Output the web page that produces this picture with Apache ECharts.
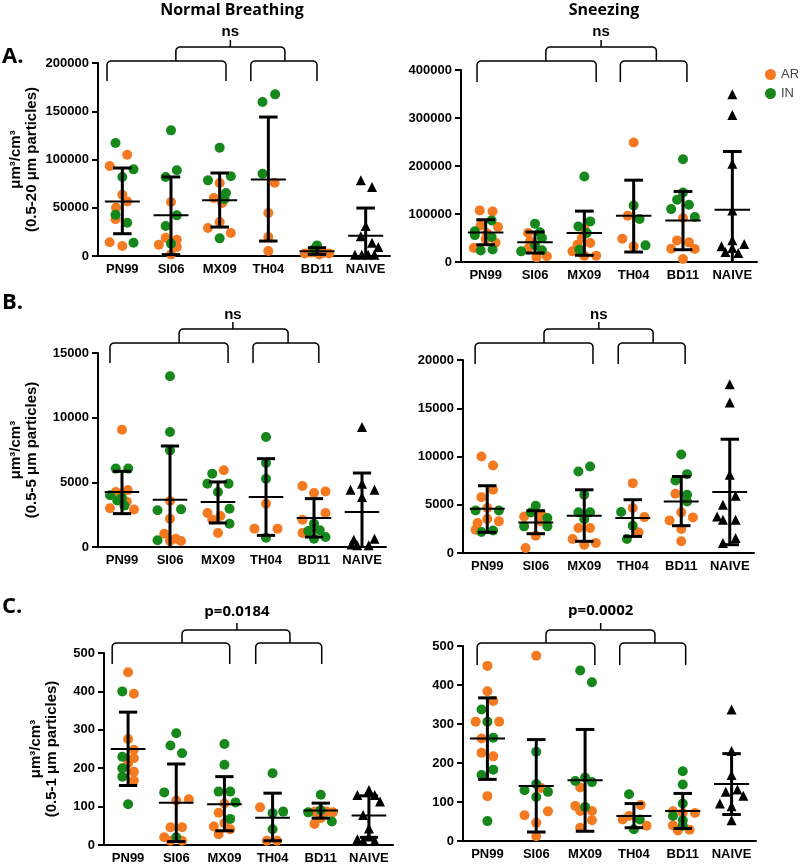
<!DOCTYPE html>
<html><head><meta charset="utf-8">
<script src="https://cdn.jsdelivr.net/npm/echarts@6/dist/echarts.min.js"></script>
<style>html,body{margin:0;padding:0;background:#fff}#c{width:800px;height:865px}</style>
</head><body><div id="c"></div>
<script>
const CATS = ['PN99','SI06','MX09','TH04','BD11','NAIVE'];
const TITLES = ['Normal Breathing','Sneezing'];
const PANEL_LETTERS = ['A.','B.','C.'];
const STATS = ['ns','ns','ns','ns','p=0.0184','p=0.0002'];
const Y_NAMES = ['μm³/cm³\n(0.5-20 μm particles)','μm³/cm³\n(0.5-5 μm particles)','μm³/cm³\n(0.5-1 μm particles)'];
const Y_MAX = [200000,400000,15000,20000,500,500];
const Y_STEP = [50000,100000,5000,5000,100,100];

// points: [categoryIndex, jitter, value]
const A_NB_AR = [[0,0.10,105000],[0,-0.26,93300],[0,0,63600],[0,0.1,56600],[0,-0.13,50100],[0,-0.14,38000],[0,-0.26,14200],[0,0,10400],
 [1,0,56000],[1,-0.11,19000],[1,0.12,16900],[1,-0.25,11700],[1,0.12,9300],[1,0,1700],
 [2,0,75600],[2,-0.12,60100],[2,0.05,55000],[2,0,35200],[2,-0.24,29000],[2,0.23,23800],
 [3,0.13,76000],[3,0,44600],[3,0,19700],[3,0,5200],
 [4,-0.25,2500],[4,-0.12,3500],[4,0,4000],[4,0.12,3000],[4,0.25,2500],[4,0.05,1500],[4,-0.05,6000]];
const A_NB_IN = [[0,-0.14,117100],[0,0.23,89800],[0,0,81900],[0,-0.14,42800],[0,0.1,34500],[0,0.23,13800],
 [1,0,130200],[1,0.12,88800],[1,-0.11,81900],[1,0.12,42100],[1,-0.11,31100],[1,0,12800],
 [2,0,112300],[2,-0.24,78400],[2,0.23,82600],[2,0.13,65300],[2,0.1,59000],[2,0,18300],
 [3,0.14,167500],[3,-0.12,159600],[3,-0.12,85300],
 [4,0,11000],[4,-0.05,7500]];
const A_NB_NAIVE = [[5,-0.1,78400],[5,0.13,71500],[5,0,31100],[5,-0.1,20400],[5,0.13,13800],[5,0.26,9300],[5,-0.22,1200],[5,-0.08,1200],[5,0.05,1200],[5,0.18,1200]];
const A_NB_MEAN = [56600,42100,57700,79400,5000,21100];
const A_NB_LOW  = [23100,1400,30000,15500,1700,-7500];
const A_NB_HIGH = [91200,81900,86000,144000,8600,49700];

const A_SN_AR = [[0,-0.12,107500],[0,0.14,105400],[0,-0.1,76300],[0,0.25,72800],[0,0.03,60000],[0,0,48000],[0,0.2,40000],[0,-0.24,29000],
 [1,-0.14,60300],[1,-0.1,43000],[1,-0.14,27700],[1,0.03,9700],[1,0.24,11800],
 [2,0,69300],[2,-0.14,36000],[2,0.12,39500],[2,-0.24,22200],[2,0,13200],[2,0.24,13200],[2,-0.05,50000],
 [3,0,248900],[3,-0.12,96400],[3,-0.23,48500],[3,0,32600],
 [4,0,91500],[4,-0.12,45000],[4,0.12,40900],[4,-0.24,27700],[4,0.24,27000],[4,0,6200]];
const A_SN_IN = [[0,0.12,86700],[0,-0.22,64000],[0,-0.22,56000],[0,0.12,52000],[0,0.14,26000],[0,-0.1,24000],
 [1,0,79700],[1,0.14,50000],[1,0.1,62000],[1,0.14,24300],[1,-0.28,22200],[1,0,35000],
 [2,0,178200],[2,-0.12,74200],[2,0.12,84600],[2,0.05,60300],[2,-0.1,25600],
 [3,0,117800],[3,0.12,89400],[3,0.24,34700],
 [4,0,214200],[4,0,144900],[4,-0.12,129600],[4,-0.24,110200],[4,0.12,119200],[4,0.24,93600]];
const A_SN_NAIVE = [[5,0,349400],[5,0,306400],[5,0,204500],[5,0,107500],[5,0,45100],[5,-0.22,32600],[5,-0.14,20800],[5,0,29100],[5,0.12,18700],[5,0.24,37400]];
const A_SN_MEAN = [61700,40900,60300,96400,86700,108800];
const A_SN_LOW  = [36000,18700,14000,20800,25600,-12600];
const A_SN_HIGH = [88000,62400,106000,170500,147000,230200];

const B_NB_AR = [[0,0,9070],[0,0.12,4400],[0,-0.13,4250],[0,0.1,3500],[0,-0.25,3000],[0,0.25,2900],[0,-0.05,4100],
 [1,0,3560],[1,0,2190],[1,-0.12,1030],[1,0.12,640],[1,0,460],[1,0.23,460],
 [2,0.12,5930],[2,-0.22,2630],[2,-0.12,2110],[2,0,1080],[2,0.05,2400],
 [3,0,3350],[3,-0.24,1420],[3,0.24,1420],
 [4,-0.24,4720],[4,0,4180],[4,0.24,4300],[4,0.24,2630],[4,-0.24,2110],[4,-0.24,1080]];
const B_NB_IN = [[0,-0.13,6060],[0,0.13,6060],[0,-0.25,4000],[0,0,3800],[0,0.05,3200],[0,-0.1,3600],
 [1,0,13200],[1,0,8890],[1,0,7470],[1,-0.26,2840],[1,0.23,2910],[1,-0.26,520],
 [2,-0.12,5670],[2,-0.22,4900],[2,0.22,4900],[2,0,4250],[2,0.24,2960],[2,0.24,1800],
 [3,0,8500],[3,0,6500],[3,0,5280],[3,0,720],
 [4,0.12,1290],[4,-0.12,1240],[4,0,640],[4,0.24,770],[4,0,1800]];
const B_NB_NAIVE = [[5,0,9280],[5,0,4900],[5,-0.24,4430],[5,0.26,4430],[5,0,3870],[5,0.26,640],[5,-0.17,570],[5,-0.1,130],[5,0.14,130],[5,-0.22,200]];
const B_NB_MEAN = [4250,3660,3480,3870,2240,2710];
const B_NB_LOW  = [2580,-490,1860,900,770,-300];
const B_NB_HIGH = [5850,7810,5030,6830,3740,5720];

const B_SN_AR = [[0,-0.12,10000],[0,0.12,9070],[0,0.12,6550],[0,-0.12,5790],[0,0,4660],[0,0,3520],[0,0.24,3280],[0,-0.2,3100],[0,-0.24,2410],
 [1,-0.24,3790],[1,0,1790],[1,-0.21,520],[1,0.12,4000],[1,0.1,3300],
 [2,-0.12,2590],[2,0.12,2590],[2,-0.24,1450],[2,0.24,1030],[2,0,860],
 [3,0,7240],[3,0,4660],[3,0.24,3720],[3,0.12,2140],
 [4,-0.12,6140],[4,0,4210],[4,-0.24,3380],[4,0.24,3690],[4,0,2480],[4,0,1210]];
const B_SN_IN = [[0,-0.24,4410],[0,0.24,4410],[0,-0.12,2170],[0,0.12,2340],
 [1,0,4900],[1,0.24,3620],[1,-0.24,2760],[1,0.24,2760],[1,-0.1,4200],
 [2,0.12,8970],[2,-0.12,8450],[2,0,6030],[2,-0.12,4210],[2,0.12,4210],[2,0,3500],
 [3,-0.24,4240],[3,0,2830],[3,-0.12,1450],
 [4,0,10200],[4,0.12,8170],[4,-0.12,7520],[4,0.12,6030],[4,0.12,5340]];
const B_SN_NAIVE = [[5,0,17480],[5,0,15590],[5,0,8100],[5,0.12,5930],[5,-0.14,5000],[5,-0.26,3790],[5,-0.14,3450],[5,0.12,3450],[5,0.12,1550],[5,-0.14,1030]];
const B_SN_MEAN = [4590,3170,3860,3620,5340,6310];
const B_SN_LOW  = [2140,2000,1210,1720,2830,860];
const B_SN_HIGH = [6970,4380,6550,5520,7930,11790];

const C_NB_AR = [[0,0,450],[0,0.12,394],[0,0,276],[0,0.12,248],[0,0.12,226],[0,0,213],[0,0.12,191],[0,0.12,168],
 [1,0.26,119],[1,-0.12,46],[1,0.12,46],[1,-0.25,20],[1,-0.12,11],[1,0.12,11],[1,0,116],
 [2,0,108],[2,-0.12,84],[2,0,57],[2,-0.22,48],[2,0.12,41],[2,-0.12,28],
 [3,-0.26,98],[3,-0.12,11],[3,0.09,11],
 [4,-0.12,87],[4,0.12,87],[4,0.25,85],[4,0,70],[4,-0.13,55]];
const C_NB_IN = [[0,-0.12,400],[0,-0.12,230],[0,-0.12,200],[0,-0.12,178],[0,0,106],
 [1,0,291],[1,-0.12,259],[1,0.12,239],[1,-0.25,137],[1,0,20],
 [2,0,263],[2,0,209],[2,-0.12,139],[2,0.12,139],[2,0.23,111],[2,0.12,68],
 [3,0,187],[3,0.22,87],[3,0,83],[3,0,41],
 [4,0,131],[4,-0.26,85],[4,0,91],[4,0.23,61]];
const C_NB_NAIVE = [[5,0,143],[5,-0.24,130],[5,0.12,130],[5,0.23,113],[5,-0.12,78],[5,0,43],[5,-0.24,15],[5,-0.12,11],[5,0.12,11],[5,0,22]];
const C_NB_MEAN = [250,110,106,71,90,77];
const C_NB_LOW  = [155,9,37,11,70,20];
const C_NB_HIGH = [346,211,178,135,109,128];

const C_SN_AR = [[0,0,449],[0,0,384],[0,0.12,359],[0,-0.24,306],[0,0.24,306],[0,-0.12,263],[0,-0.12,226],[0,0.12,217],[0,0,115],
 [1,0,475],[1,0.1,136],[1,-0.24,66],[1,0.24,76],[1,0,47],[1,0,12],
 [2,-0.1,137],[2,-0.2,90],[2,-0.1,77],[2,0.14,77],[2,0.14,53],[2,-0.1,34],
 [3,0.14,92],[3,-0.23,55],[3,-0.1,64],[3,0.26,39],
 [4,-0.2,76],[4,0.25,72],[4,-0.2,40],[4,-0.1,27],[4,0.14,29],[4,0,72]];
const C_SN_IN = [[0,-0.12,337],[0,0,306],[0,0.12,265],[0,0.12,183],[0,-0.12,169],[0,0,51],
 [1,0,229],[1,-0.24,130],[1,0,146],[1,0.24,126],[1,0,113],
 [2,-0.1,437],[2,0.14,407],[2,0,163],[2,-0.2,154],[2,0.14,151],[2,0,87],
 [3,-0.1,120],[3,0.12,55],[3,0,30],
 [4,0,179],[4,0,145],[4,0,96],[4,-0.2,64],[4,0,53],[4,0,39]];
const C_SN_NAIVE = [[5,0,337],[5,0,231],[5,0,169],[5,-0.12,126],[5,0.12,132],[5,0.24,116],[5,-0.24,96],[5,0,89],[5,0,53]];
const C_SN_MEAN = [263,141,156,64,77,146];
const C_SN_LOW  = [158,23,25,34,32,68];
const C_SN_HIGH = [367,260,286,96,122,224];

const SERIES_AR = [A_NB_AR,A_SN_AR,B_NB_AR,B_SN_AR,C_NB_AR,C_SN_AR];
const SERIES_IN = [A_NB_IN,A_SN_IN,B_NB_IN,B_SN_IN,C_NB_IN,C_SN_IN];
const SERIES_NAIVE = [A_NB_NAIVE,A_SN_NAIVE,B_NB_NAIVE,B_SN_NAIVE,C_NB_NAIVE,C_SN_NAIVE];
const MEANS = [A_NB_MEAN,A_SN_MEAN,B_NB_MEAN,B_SN_MEAN,C_NB_MEAN,C_SN_MEAN];
const LOWS = [A_NB_LOW,A_SN_LOW,B_NB_LOW,B_SN_LOW,C_NB_LOW,C_SN_LOW];
const HIGHS = [A_NB_HIGH,A_SN_HIGH,B_NB_HIGH,B_SN_HIGH,C_NB_HIGH,C_SN_HIGH];

// ---- layout (pixels) ----
const GRIDS = [
  {left:98, top:63, width:292, height:193},
  {left:461, top:70, width:296, height:192},
  {left:98, top:353, width:288, height:194},
  {left:463, top:360, width:291, height:193},
  {left:104, top:653, width:289, height:192},
  {left:463, top:646, width:293, height:195}
];
const NAME_GAP = [58, 0, 58, 0, 44, 0];
// bracket x in category units: [l1,r1,l2,r2,t1,t2,tick]; y pixels: [lower, legBottom, top, tickTop, label]
const BRACKET_X = [
  [-0.315,2.13,2.64,4.0,1.10,3.34,2.22],
  [-0.175,2.24,2.73,4.08,1.22,3.46,2.34],
  [-0.25,2.21,2.73,4.1,1.19,3.46,2.31],
  [-0.25,2.18,2.70,4.08,1.17,3.42,2.30],
  [-0.33,2.11,2.65,4.02,1.12,3.36,2.26],
  [-0.21,2.20,2.71,4.06,1.20,3.43,2.32]
];
const BRACKET_Y = [
  [61,81,47,40,32],[61,82,47,40,32],
  [343,363,329,322,315],[343,364,329,322,315],
  [643,664,630,623,612],[643,665,630,623,611]
];

const ORANGE = '#F47A22';
const GREEN = '#16871B';
const FONT = '"Liberation Sans", Arial, sans-serif';

const chart = echarts.init(document.getElementById('c'), null, {renderer:'canvas'});

const grid = [], xAxis = [], yAxis = [], series = [];
GRIDS.forEach((g, i) => {
  grid.push(Object.assign({containLabel:false}, g));
  xAxis.push({type:'category', gridIndex:i, data:CATS, boundaryGap:true,
    axisLine:{onZero:false, lineStyle:{color:'#000', width:2}}, axisTick:{show:false},
    axisLabel:{color:'#000', fontWeight:'bold', fontSize:13, margin:7, interval:0, fontFamily:FONT}});
  xAxis.push({type:'value', gridIndex:i, min:-0.5, max:5.5, show:false, axisLine:{onZero:false}});
  const y = {type:'value', gridIndex:i, min:0, max:Y_MAX[i], interval:Y_STEP[i], position:'left',
    axisLine:{show:true, onZero:false, lineStyle:{color:'#000', width:2}},
    axisTick:{show:true, length:6, lineStyle:{color:'#000', width:2}},
    axisLabel:{color:'#000', fontWeight:'bold', fontSize:13, margin:9, fontFamily:FONT,
      formatter: v => String(v)},
    splitLine:{show:false}};
  if (i % 2 === 0) {
    Object.assign(y, {name:Y_NAMES[i/2], nameLocation:'middle', nameRotate:90, nameGap:NAME_GAP[i],
      nameTextStyle:{color:'#000', fontWeight:'bold', fontSize:15, lineHeight:16, fontFamily:FONT}});
  }
  yAxis.push(y);
  const toXY = p => [p[0] + p[1], p[2]];
  series.push({type:'scatter', name:'AR', xAxisIndex:2*i+1, yAxisIndex:i, data:SERIES_AR[i].map(toXY),
    symbol:'circle', symbolSize:10, itemStyle:{color:ORANGE, opacity:1}, z:2, silent:true});
  series.push({type:'scatter', name:'IN', xAxisIndex:2*i+1, yAxisIndex:i, data:SERIES_IN[i].map(toXY),
    symbol:'circle', symbolSize:10, itemStyle:{color:GREEN, opacity:1}, z:2, silent:true});
  series.push({type:'scatter', name:'NAIVE', xAxisIndex:2*i+1, yAxisIndex:i, data:SERIES_NAIVE[i].map(toXY),
    symbol:'triangle', symbolSize:10, itemStyle:{color:'#000', opacity:1}, z:2, silent:true});
  series.push({type:'custom', xAxisIndex:2*i+1, yAxisIndex:i, z:5, silent:true,
    data: MEANS[i].map((m, k) => [k, m, LOWS[i][k], HIGHS[i][k]]),
    encode:{x:0, y:[1,2,3]},
    renderItem(params, api) {
      const x = api.value(0), m = api.value(1), lo = api.value(2), hi = api.value(3);
      const u = api.size([1, 0])[0];
      const pT = api.coord([x, hi]), pB = api.coord([x, Math.max(lo, 0)]), pM = api.coord([x, m]);
      const cap = u * 0.19, mw = u * 0.36;
      const st = w => ({stroke:'#000', lineWidth:w});
      const ch = [
        {type:'line', shape:{x1:pT[0], y1:pT[1], x2:pB[0], y2:pB[1]}, style:st(3)},
        {type:'line', shape:{x1:pT[0]-cap, y1:pT[1], x2:pT[0]+cap, y2:pT[1]}, style:st(3)},
        {type:'line', shape:{x1:pM[0]-mw, y1:pM[1], x2:pM[0]+mw, y2:pM[1]}, style:st(2)}
      ];
      if (lo > 0) ch.push({type:'line', shape:{x1:pB[0]-cap, y1:pB[1], x2:pB[0]+cap, y2:pB[1]}, style:st(3)});
      return {type:'group', children:ch};
    }});
});

chart.setOption({
  animation:false,
  backgroundColor:'#fff',
  textStyle:{fontFamily:FONT},
  grid, xAxis, yAxis, series,
  legend:{data:[{name:'AR', icon:'circle'},{name:'IN', icon:'circle'}], orient:'vertical', left:760, top:63,
    itemWidth:11, itemHeight:11, itemGap:6, selectedMode:false,
    textStyle:{fontSize:13, color:'#444', fontFamily:FONT}}
});

// ---- annotations ----
const graphic = [];
function txt(x, y, text, font, align) {
  graphic.push({type:'text', x, y, silent:true, style:{text, font, fill:'#000',
    textAlign:align||'center', textVerticalAlign:'middle', align:align||'center', verticalAlign:'middle'}});
}
function poly(points) {
  graphic.push({type:'polyline', silent:true, shape:{points}, style:{stroke:'#000', lineWidth:1.5, fill:null}});
}
function bracket(xl, xr, yh, yb, r) {
  const pts = [[xl, yb], [xl, yh + r]];
  const arc = (cx, cy, a0, a1) => { for (let k = 1; k <= 4; k++) { const a = a0 + (a1 - a0) * k / 5; pts.push([cx + r * Math.cos(a), cy + r * Math.sin(a)]); } };
  arc(xl + r, yh + r, Math.PI, 1.5 * Math.PI);
  pts.push([xl + r, yh], [xr - r, yh]);
  arc(xr - r, yh + r, 1.5 * Math.PI, 2 * Math.PI);
  pts.push([xr, yh + r], [xr, yb]);
  poly(pts);
}
txt(232, 10, TITLES[0], 'bold 16px "Open Sans", sans-serif');
txt(604, 10, TITLES[1], 'bold 16px "Open Sans", sans-serif');
txt(2, 57, PANEL_LETTERS[0], 'bold 22px "Open Sans", sans-serif', 'left');
txt(2, 303, PANEL_LETTERS[1], 'bold 22px "Open Sans", sans-serif', 'left');
txt(2, 607, PANEL_LETTERS[2], 'bold 22px "Open Sans", sans-serif', 'left');
GRIDS.forEach((g, i) => {
  const px = v => chart.convertToPixel({xAxisIndex:2*i+1}, v);
  const [l1, r1, l2, r2, t1, t2, tk] = BRACKET_X[i].map(px);
  const [yl, yb, yt, ytt, ylab] = BRACKET_Y[i];
  bracket(l1, r1, yl, yb, 4);
  bracket(l2, r2, yl, yb, 4);
  bracket(t1, t2, yt, yl, 4);
  poly([[tk, yt], [tk, ytt]]);
  txt(tk, ylab, STATS[i], i >= 4 ? 'bold 15px "Open Sans", sans-serif' : 'bold 15px "Liberation Sans", Arial, sans-serif');
});
chart.setOption({graphic});
</script>
</body></html>
